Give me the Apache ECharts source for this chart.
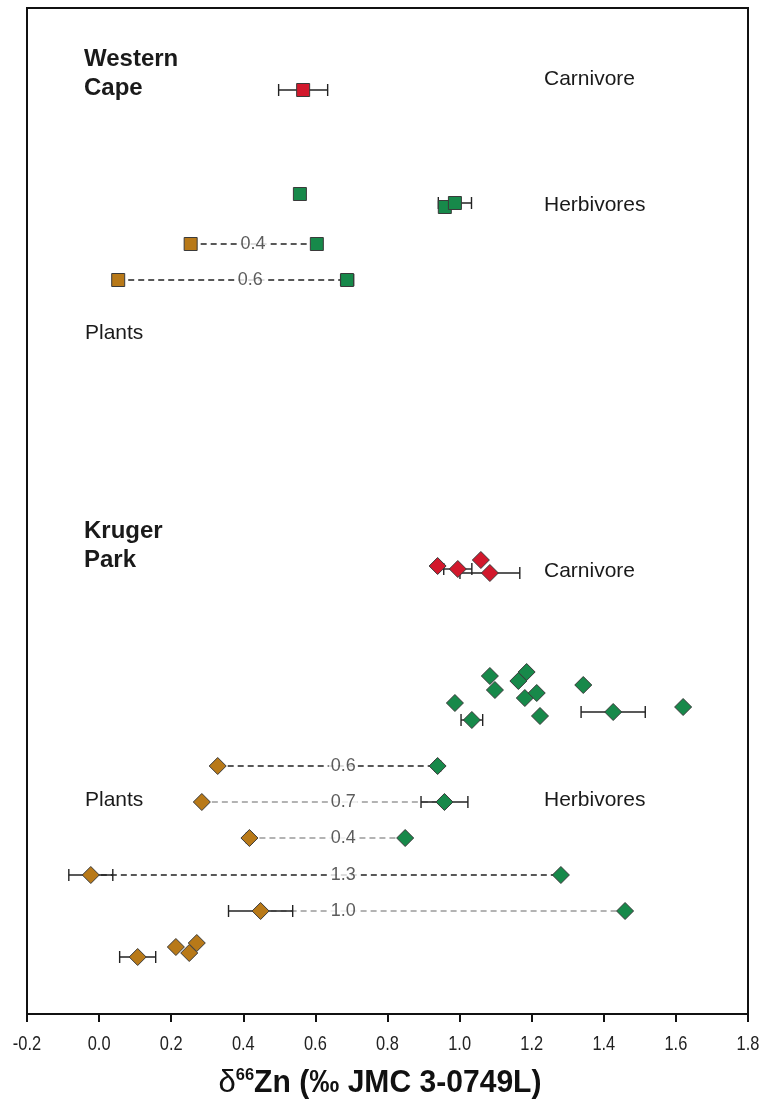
<!DOCTYPE html>
<html><head><meta charset="utf-8">
<script src="https://cdn.jsdelivr.net/npm/echarts@6/dist/echarts.min.js"></script>
<style>html,body{margin:0;padding:0;background:#fff}#c{width:765px;height:1104px}</style>
</head><body><div id="c"></div>
<script>
// ---- data (x = δ66Zn ‰, y = row position in arbitrary units) ----
const xTicks = [-0.2, 0.0, 0.2, 0.4, 0.6, 0.8, 1.0, 1.2, 1.4, 1.6, 1.8];

// Western Cape (squares)
const wcCarnX = [0.566];
const wcCarnY = [92.4];
const wcCarnErr = [0.068];

const wcHerbX = [0.557, 0.959, 0.987];
const wcHerbY = [82.0, 80.7, 81.1];
const wcHerbErr = [0, 0, 0.046];

const wcPairPlantX = [0.254, 0.053];
const wcPairHerbX = [0.604, 0.688];
const wcPairY = [77.0, 73.4];
const wcPairHerbErr = [0, 0.018];
const wcPairDiff = ["0.4", "0.6"];
const wcPairLabelX = [0.427, 0.419];
const wcPairDark = [true, true];

// Kruger Park (diamonds)
const krCarnX = [0.939, 0.995, 1.059, 1.084];
const krCarnY = [44.8, 44.5, 45.4, 44.1];
const krCarnErr = [0, 0.039, 0, 0.083];

const krHerbX = [1.084, 1.098, 1.186, 1.163, 1.181, 1.214, 1.223, 0.987, 1.034, 1.343, 1.426, 1.620];
const krHerbY = [33.8, 32.4, 34.2, 33.3, 31.6, 32.1, 29.8, 31.1, 29.4, 32.9, 30.2, 30.7];
const krHerbErr = [0, 0, 0, 0, 0, 0, 0, 0, 0.03, 0, 0.089, 0];

const krPairPlantX = [0.329, 0.285, 0.417, -0.023, 0.448];
const krPairPlantErr = [0, 0, 0.008, 0.061, 0.089];
const krPairHerbX = [0.939, 0.958, 0.849, 1.281, 1.459];
const krPairHerbErr = [0.008, 0.065, 0, 0, 0];
const krPairY = [24.8, 21.2, 17.6, 13.9, 10.3];
const krPairDiff = ["0.6", "0.7", "0.4", "1.3", "1.0"];
const krPairLabelX = [0.677, 0.677, 0.677, 0.677, 0.677];
const krPairDark = [true, false, false, true, false];

const krPlantX = [0.107, 0.213, 0.250, 0.271];
const krPlantY = [5.7, 6.7, 6.1, 7.1];
const krPlantErr = [0.05, 0, 0, 0];

// ---- styling ----
const RED = '#d2182c', GREEN = '#17894a', BROWN = '#b87918';
const SQ = 13, DM = 17;
const FONT = 'Liberation Sans, Arial, sans-serif';

function pts(xs, ys) { return xs.map((x, i) => [x, ys[i]]); }
function errs(xs, ys, es) { return xs.map((x, i) => [x, ys[i], es[i]]).filter(d => d[2] > 0); }

const errData = [].concat(
  errs(wcCarnX, wcCarnY, wcCarnErr),
  errs(wcHerbX, wcHerbY, wcHerbErr),
  errs(wcPairHerbX, wcPairY, wcPairHerbErr),
  errs(krCarnX, krCarnY, krCarnErr),
  errs(krHerbX, krHerbY, krHerbErr),
  errs(krPairPlantX, krPairY, krPairPlantErr),
  errs(krPairHerbX, krPairY, krPairHerbErr),
  errs(krPlantX, krPlantY, krPlantErr)
);

const series = [];

// dashed connector lines
function addPairs(plantX, herbX, ys, dark) {
  ys.forEach((y, i) => {
    series.push({
      type: 'line', silent: true, symbol: 'none', z: 1,
      data: [[plantX[i], y], [herbX[i], y]],
      lineStyle: { color: dark[i] ? '#222' : '#9a9a9a', width: 1.5, type: [6, 4] }
    });
  });
}
addPairs(wcPairPlantX, wcPairHerbX, wcPairY, wcPairDark);
addPairs(krPairPlantX, krPairHerbX, krPairY, krPairDark);

// pair difference labels
series.push({
  type: 'scatter', silent: true, symbolSize: 0, z: 3,
  data: pts(wcPairLabelX, wcPairY).map((d, i) => ({ value: d, label: { formatter: wcPairDiff[i] } }))
    .concat(pts(krPairLabelX, krPairY).map((d, i) => ({ value: d, label: { formatter: krPairDiff[i] } }))),
  label: { show: true, position: 'inside', color: '#333', fontSize: 18, fontFamily: FONT,
    backgroundColor: '#fff', padding: [0, 2] }
});

// error bars
series.push({
  type: 'custom', z: 2, silent: true,
  data: errData,
  renderItem: function (params, api) {
    const x = api.value(0), y = api.value(1), e = api.value(2);
    const a = api.coord([x - e, y]), b = api.coord([x + e, y]);
    const h = 6;
    const st = { stroke: '#222', lineWidth: 1.4 };
    return { type: 'group', children: [
      { type: 'line', shape: { x1: a[0], y1: a[1], x2: b[0], y2: b[1] }, style: st },
      { type: 'line', shape: { x1: a[0], y1: a[1] - h, x2: a[0], y2: a[1] + h }, style: st },
      { type: 'line', shape: { x1: b[0], y1: b[1] - h, x2: b[0], y2: b[1] + h }, style: st }
    ]};
  }
});

// condensed x tick labels placed through the x scale
series.push({
  type: 'custom', z: 5, silent: true, clip: false,
  data: xTicks.map(t => [t, 0]),
  renderItem: function (params, api) {
    const v = api.value(0);
    const p = api.coord([v, 0]);
    return { type: 'text', x: p[0], y: p[1] + 30, scaleX: 0.82, originX: 0, originY: 0,
      style: { text: v.toFixed(1), fill: '#222', font: '20px ' + FONT, textAlign: 'center', textVerticalAlign: 'middle' } };
  }
});

function markers(data, color, symbol, size) {
  series.push({
    type: 'scatter', z: 4, symbol: symbol, symbolSize: size, data: data,
    itemStyle: { color: color, borderColor: '#3a3a3a', borderWidth: 1, opacity: 1 }
  });
}
markers(pts(wcCarnX, wcCarnY), RED, 'rect', SQ);
markers(pts(wcHerbX, wcHerbY), GREEN, 'rect', SQ);
markers(pts(wcPairPlantX, wcPairY), BROWN, 'rect', SQ);
markers(pts(wcPairHerbX, wcPairY), GREEN, 'rect', SQ);
markers(pts(krCarnX, krCarnY), RED, 'diamond', DM);
markers(pts(krHerbX, krHerbY), GREEN, 'diamond', DM);
markers(pts(krPairPlantX, krPairY), BROWN, 'diamond', DM);
markers(pts(krPairHerbX, krPairY), GREEN, 'diamond', DM);
markers(pts(krPlantX, krPlantY), BROWN, 'diamond', DM);

const chart = echarts.init(document.getElementById('c'), null, { renderer: 'canvas' });
function txt(x, y, text, bold, size) {
  return { type: 'text', x: x, y: y, z: 10,
    style: { text: text, fill: '#1a1a1a', font: (bold ? 'bold ' : '') + size + 'px ' + FONT,
      textAlign: 'left', textVerticalAlign: 'middle' } };
}
chart.setOption({
  animation: false,
  backgroundColor: '#fff',
  grid: { left: 27, right: 17, top: 8, bottom: 90, show: true, borderColor: '#111', borderWidth: 2, backgroundColor: 'transparent' },
  xAxis: {
    type: 'value', min: -0.2, max: 1.8, interval: 0.2,
    axisLine: { show: true, lineStyle: { color: '#111', width: 2 } },
    axisTick: { show: true, length: 8, lineStyle: { color: '#111', width: 2 } },
    splitLine: { show: false },
    axisLabel: { show: false }
  },
  yAxis: {
    type: 'value', min: 0, max: 100.6,
    axisLine: { show: false }, axisTick: { show: false }, axisLabel: { show: false }, splitLine: { show: false }
  },
  graphic: [
    txt(84, 59, 'Western', true, 24),
    txt(84, 88, 'Cape', true, 24),
    txt(544, 79, 'Carnivore', false, 21),
    txt(544, 205, 'Herbivores', false, 21),
    txt(85, 333, 'Plants', false, 21),
    txt(84, 531, 'Kruger', true, 24),
    txt(84, 560, 'Park', true, 24),
    txt(544, 571, 'Carnivore', false, 21),
    txt(85, 800, 'Plants', false, 21),
    txt(544, 800, 'Herbivores', false, 21),
    { type: 'text', x: 380, y: 1083, z: 10, scaleX: 0.97, originX: 0, originY: 0,
      style: { rich: {
        d: { fontSize: 32, fontFamily: FONT, fill: '#111' },
        s: { fontSize: 17, fontWeight: 'bold', fontFamily: FONT, fill: '#111', verticalAlign: 'top', padding: [0, 0, 14, 0] },
        t: { fontSize: 31, fontWeight: 'bold', fontFamily: FONT, fill: '#111' }
      }, text: '{d|δ}{s|66}{t|Zn (‰ JMC 3-0749L)}', textAlign: 'center', textVerticalAlign: 'middle' } }
  ],
  series: series
});
</script></body></html>
